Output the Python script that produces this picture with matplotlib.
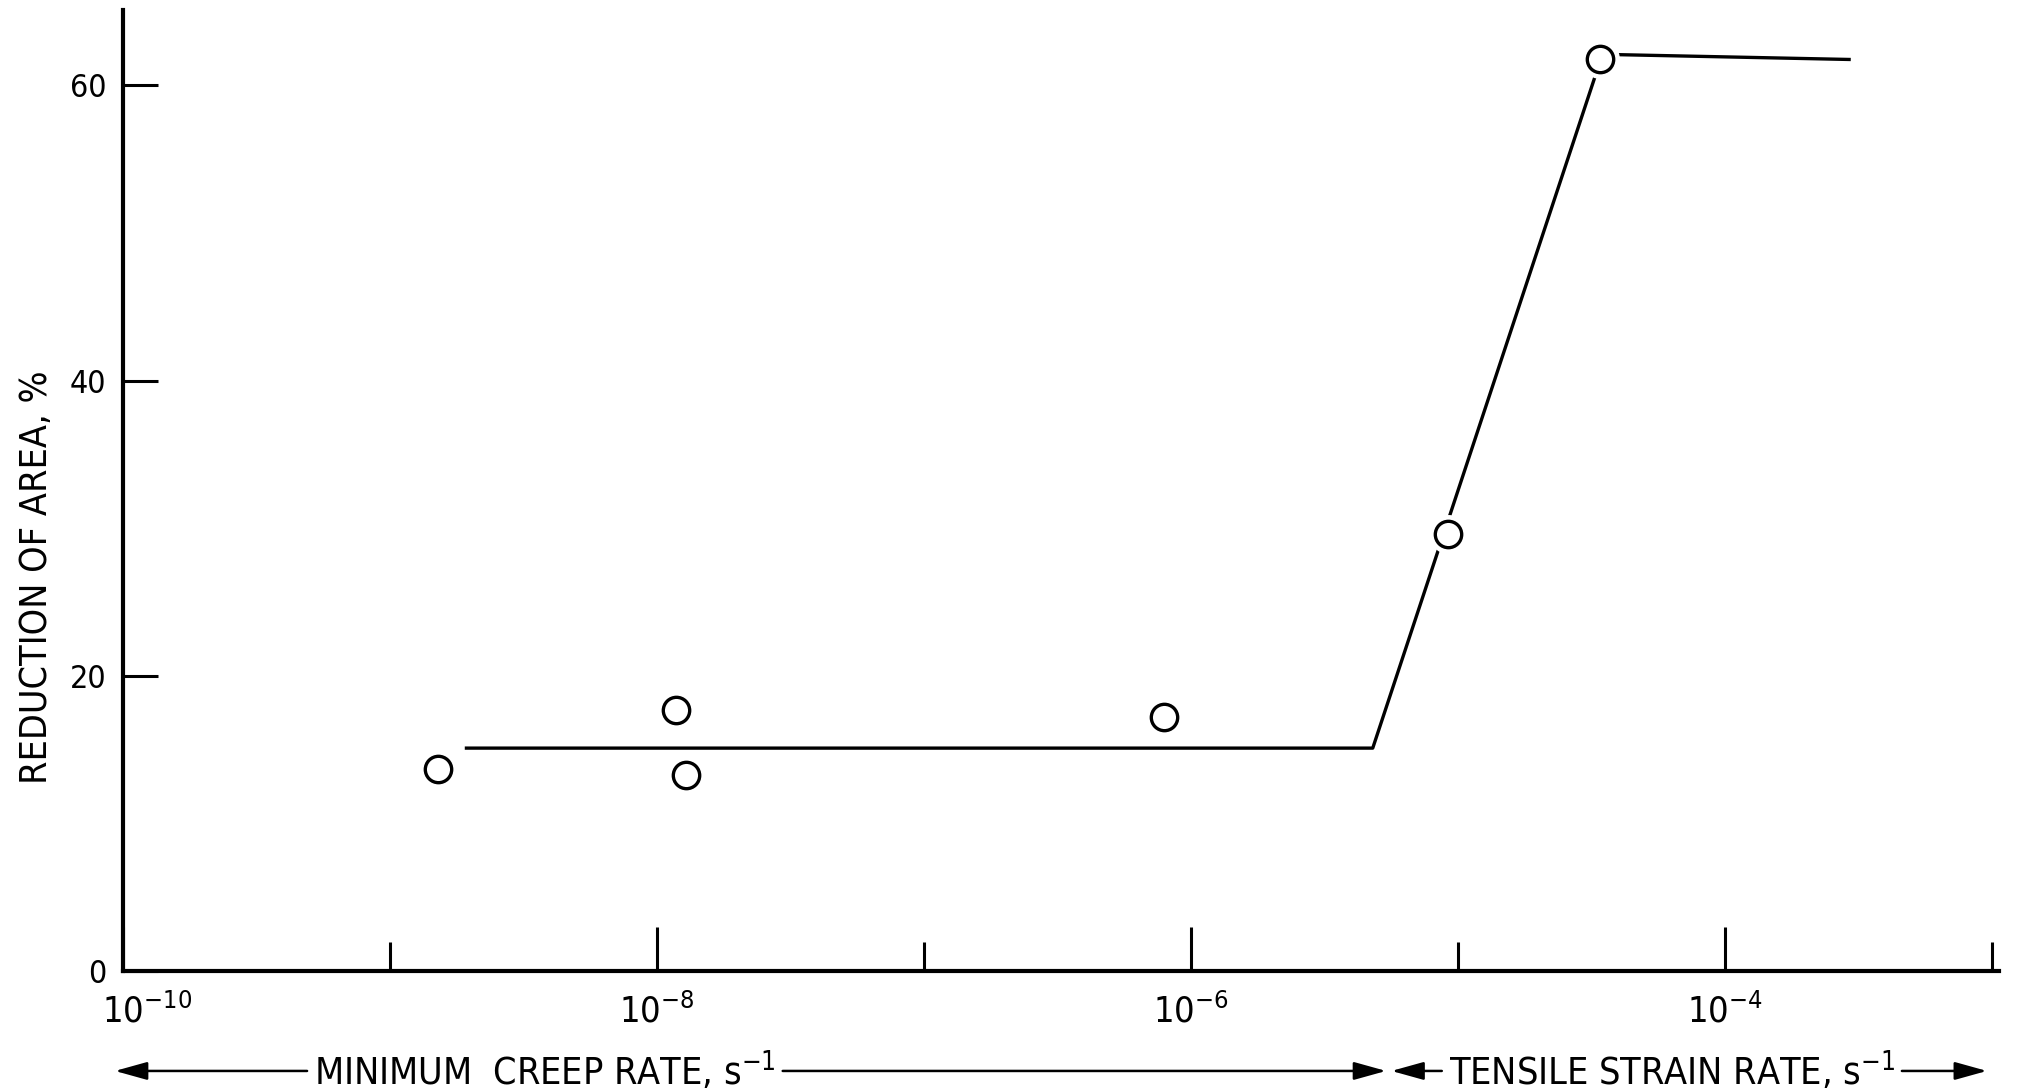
import numpy as np
import matplotlib
matplotlib.use("Agg")
import matplotlib.pyplot as plt
from matplotlib import font_manager
from matplotlib.ticker import NullFormatter
from matplotlib.transforms import ScaledTranslation

# look for a narrow/condensed face like the original lettering
narrow = None
stretch = 'normal'
for f in font_manager.fontManager.ttflist:
    st = f.stretch
    is_narrow = ('Narrow' in f.name or 'Condensed' in f.name or
                 st in ('condensed', 'semi-condensed', 'extra-condensed') or
                 (isinstance(st, (int, float)) and st < 500))
    if is_narrow and f.style == 'normal' and f.weight in (400, 'normal', 'regular'):
        narrow = f.name
        stretch = st
        break
found = narrow is not None
if narrow is None:
    narrow = 'DejaVu Sans'

plt.rcParams['font.family'] = [narrow, 'DejaVu Sans']
plt.rcParams['font.stretch'] = stretch
plt.rcParams['mathtext.fontset'] = 'custom'
plt.rcParams['mathtext.rm'] = f'{narrow}:stretch={stretch}'
plt.rcParams['mathtext.it'] = f'{narrow}:stretch={stretch}'

# measured points (log10 of rate, reduction of area %)
pts_logx = [-8.82, -7.93, -7.89, -6.10, -5.04, -4.47]
pts_y = [13.7, 17.7, 13.3, 17.2, 29.6, 61.8]

# fitted trend line
fit_logx = [-8.72, -5.32, -4.46, -3.53]
fit_y = [15.1, 15.1, 62.1, 61.75]

major_ticks = [1e-10, 1e-8, 1e-6, 1e-4]
major_labels = [r'$\mathregular{10^{-10}}$', r'$\mathregular{10^{-8}}$',
                r'$\mathregular{10^{-6}}$', r'$\mathregular{10^{-4}}$']
minor_ticks = [1e-9, 1e-7, 1e-5, 1e-3]
y_ticks = [0, 20, 40, 60]

lab_size = 27 if found else 23

fig = plt.figure(figsize=(20.29, 10.92), dpi=100)
ax = fig.add_axes([0.0606, 0.1108, 0.9246, 0.880])

ax.plot(10.0 ** np.array(fit_logx), fit_y, color='black', lw=2.4, zorder=2,
        solid_capstyle='butt')
# white halo to break the line around each circle
ax.plot(10.0 ** np.array(pts_logx), pts_y, 'o', ms=27, mfc='white', mec='white',
        zorder=3)
ax.plot(10.0 ** np.array(pts_logx), pts_y, 'o', ms=19, mfc='white', mec='black',
        mew=2.4, zorder=4)

ax.set_xscale('log')
ax.set_xlim(1e-10, 10 ** -2.975)
ax.set_ylim(0, 65.1)

ax.set_xticks(major_ticks)
ax.set_xticklabels(major_labels)
ax.set_xticks(minor_ticks, minor=True)
ax.xaxis.set_minor_formatter(NullFormatter())
ax.set_yticks(y_ticks)

ax.tick_params(axis='x', which='major', direction='in', length=32, width=2.2,
               pad=16, labelsize=26 if found else 22)
ax.tick_params(axis='x', which='minor', direction='in', length=21, width=2.2)
ax.tick_params(axis='y', direction='in', length=25, width=2.2, pad=12,
               labelsize=23)

# first label sits a little right of its tick in the original
first = ax.get_xticklabels()[0]
first.set_transform(first.get_transform() +
                    ScaledTranslation(0.24, 0, fig.dpi_scale_trans))

for s in ['top', 'right']:
    ax.spines[s].set_visible(False)
for s in ['left', 'bottom']:
    ax.spines[s].set_linewidth(3.0)

ax.set_ylabel('REDUCTION OF AREA, %', fontsize=lab_size)
ax.yaxis.set_label_coords(-0.036, 0.41)

# bottom axis titles with arrows
tr = ax.get_xaxis_transform()
arrow = dict(arrowstyle='-|>,head_length=0.9,head_width=0.25', color='black',
             lw=1.8, mutation_scale=22, shrinkA=3, shrinkB=0)
y_lab = -0.104
t1 = r'MINIMUM  CREEP RATE, $\mathregular{s^{-1}}$'
t2 = r'TENSILE STRAIN RATE, $\mathregular{s^{-1}}$'
for txt, xc, tips in [(t1, -8.42, (-10.03, -5.27)), (t2, -4.2, (-5.25, -3.02))]:
    for k, tip in enumerate(tips):
        ax.annotate(txt, xy=(10 ** tip, y_lab), xycoords=tr,
                    xytext=(10 ** xc, y_lab), textcoords=tr, ha='center',
                    va='center', fontsize=lab_size,
                    color='black' if k == 0 else 'none',
                    arrowprops=arrow, annotation_clip=False)

fig.savefig('out.png', dpi=100)
